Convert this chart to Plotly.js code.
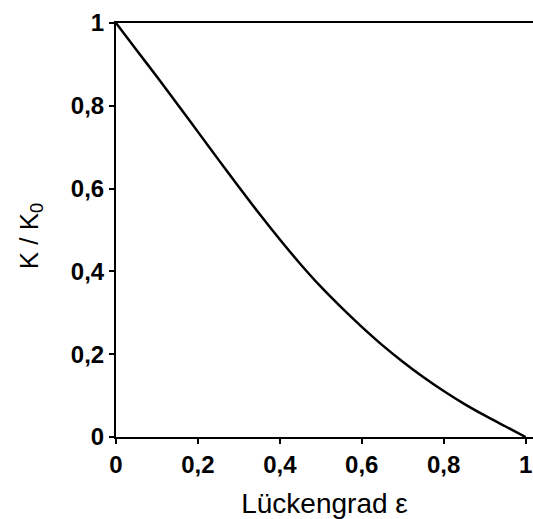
<!DOCTYPE html>
<html>
<head>
<meta charset="utf-8">
<script src="https://cdn.plot.ly/plotly-3.0.1.min.js"></script>
<style>html,body{margin:0;padding:0;background:#fff;}#chart{width:533px;height:519px;}</style>
</head>
<body>
<div id="chart"></div>
<script>
// Lückengrad ε (x) and relative K / K0 (y)
const epsilon = [0, 0.05, 0.1, 0.15, 0.2, 0.25, 0.3, 0.35, 0.4, 0.45, 0.5, 0.55, 0.6, 0.65, 0.7, 0.75, 0.8, 0.85, 0.9, 0.95, 1.0];
const kRatio  = [1, 0.935, 0.870, 0.804, 0.737, 0.670, 0.604, 0.539, 0.477, 0.418, 0.363, 0.313, 0.266, 0.222, 0.182, 0.145, 0.111, 0.080, 0.052, 0.026, 0];
const xTicks = [0, 0.2, 0.4, 0.6, 0.8, 1];
const yTicks = [0, 0.2, 0.4, 0.6, 0.8, 1];

const trace = {
  x: epsilon, y: kRatio, type: 'scatter', mode: 'lines',
  line: {color: '#000', width: 2.5, shape: 'spline', smoothing: 0.8},
  hoverinfo: 'skip', showlegend: false
};

const fam = 'Liberation Sans, Arial, sans-serif';
const tickFont = {family: fam, size: 24, color: '#000', weight: 'bold'};
const layout = {
  width: 533, height: 519,
  margin: {l: 116, r: 0, t: 22.5, b: 82, pad: 0},
  separators: ',.',
  paper_bgcolor: '#fff', plot_bgcolor: '#fff',
  xaxis: {
    range: [0, 1.018], tickvals: xTicks, showgrid: false, zeroline: false,
    showline: true, linecolor: '#000', linewidth: 2, mirror: true,
    ticks: 'outside', ticklen: 5, tickwidth: 2, tickcolor: '#000',
    tickfont: tickFont,
    title: {text: 'Lückengrad ε', font: {family: fam, size: 28, color: '#000'}, standoff: 22},
    automargin: false
  },
  yaxis: {
    range: [0, 1], tickvals: yTicks, showgrid: false, zeroline: false,
    showline: true, linecolor: '#000', linewidth: 2, mirror: false,
    ticks: 'outside', ticklen: 5, tickwidth: 2, tickcolor: '#000',
    tickfont: tickFont,
    automargin: false
  },
  annotations: [{
    text: 'K / K<sub>0</sub>', textangle: -90, showarrow: false,
    xref: 'paper', yref: 'paper', x: -0.206, y: 0.485,
    xanchor: 'center', yanchor: 'middle',
    font: {family: fam, size: 26, color: '#000'}
  }]
};

Plotly.newPlot('chart', [trace], layout, {displayModeBar: false, staticPlot: true});
</script>
</body>
</html>
